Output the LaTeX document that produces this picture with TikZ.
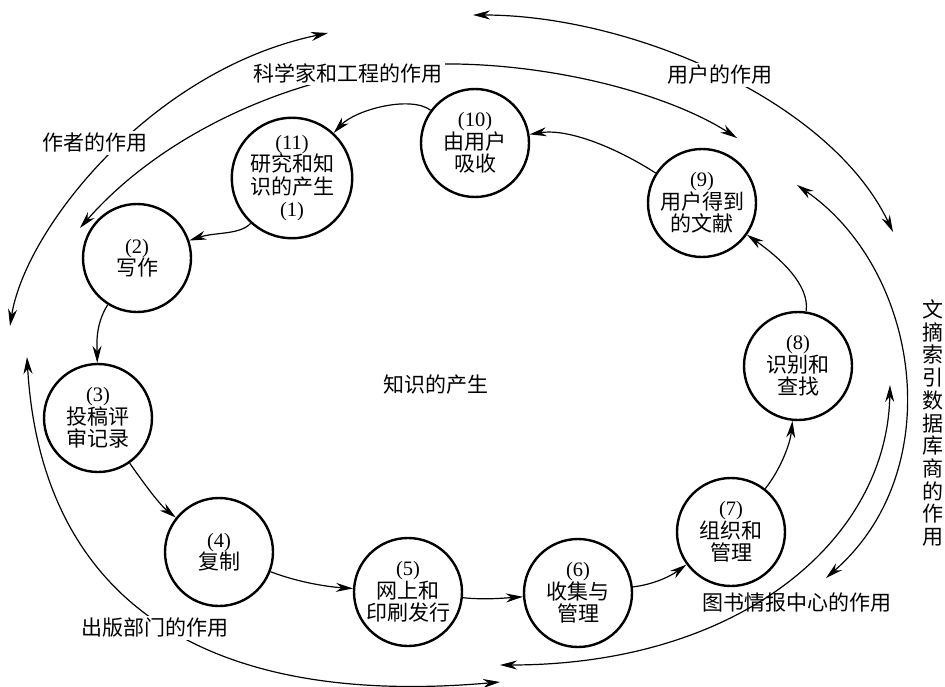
\documentclass[tikz,border=0pt]{standalone}
\usepackage{fontspec}
\setmainfont{Liberation Serif}
\newfontfamily\cjk{Noto Sans CJK SC}
\usetikzlibrary{arrows.meta}
\newcommand\stepno[1]{{\rmfamily\fontsize{20.5}{22}\selectfont #1}}

\tikzset{
  tip/.tip={Stealth[length=17pt,width=9pt,inset=5.5pt]},
  stage/.style={circle, draw, line width=2.4pt, minimum size=108pt, inner sep=0pt,
    align=center, font=\cjk\fontsize{21}{22.5}\selectfont},
  flow/.style={line width=1.2pt, -tip},
  role/.style={line width=1.2pt, tip-tip},
  rolelabel/.style={font=\cjk\fontsize{21}{22.7}\selectfont, inner sep=2pt, align=center},
}

\begin{document}
\begin{tikzpicture}[x=1pt,y=-1pt]
\useasboundingbox[fill=white] (0,0) rectangle (945,687);

% stages of the knowledge cycle
\node[stage] (n11) at (292,178) {\stepno{(11)}\\研究和知\\识的产生\\\stepno{(1)}};
\node[stage] (n10) at (475,143) {\stepno{(10)}\\由用户\\吸收};
\node[stage] (n9)  at (702,203) {\stepno{(9)}\\用户得到\\的文献};
\node[stage] (n2)  at (137,258) {\stepno{(2)}\\写作};
\node[stage] (n3)  at (98,418)  {\stepno{(3)}\\投稿评\\审记录};
\node[stage] (n4)  at (219,552) {\stepno{(4)}\\复制};
\node[stage] (n5)  at (408,592) {\stepno{(5)}\\网上和\\印刷发行};
\node[stage] (n6)  at (578,593) {\stepno{(6)}\\收集与\\管理};
\node[stage] (n7)  at (731,532) {\stepno{(7)}\\组织和\\管理};
\node[stage] (n8)  at (798,366) {\stepno{(8)}\\识别和\\查找};

\node[rolelabel] (core) at (436,385) {知识的产生};

% flow between stages
\draw[flow] (n10) .. controls (410,95) and (355,110) .. (n11);
\draw[flow] (n11) .. controls (240,235) and (215,232) .. (n2);
\draw[flow] (n2)  .. controls (95,325) and (97,345) .. (n3);
\draw[flow] (n3)  .. controls (145,485) and (160,505) .. (n4);
\draw[flow] (n4)  .. controls (300,583) and (330,587) .. (n5);
\draw[flow] (n5)  .. controls (485,600) and (505,598) .. (n6);
\draw[flow] (n6)  .. controls (650,585) and (668,578) .. (n7);
\draw[flow] (n7)  .. controls (780,470) and (790,445) .. (n8);
\draw[flow] (n8)  .. controls (810,285) and (780,258) .. (n9);
\draw[flow] (n9)  .. controls (620,150) and (570,128) .. (n10);

% end points of the role arcs
\coordinate (a1) at (10,326);  \coordinate (a2) at (328,33);
\coordinate (s1) at (80,228);  \coordinate (s2) at (455,64);  \coordinate (s3) at (737,138);
\coordinate (u1) at (473,15);  \coordinate (u2) at (893,232);
\coordinate (d1) at (797,185); \coordinate (d2) at (826,578);
\coordinate (l1) at (890,385); \coordinate (l2) at (500,665);
\coordinate (p1) at (27,357);  \coordinate (p2) at (500,682);

% role arcs
\draw[role] (a1) .. controls (25,230) and (150,70) .. (a2);
\draw[role] (s1) .. controls (170,125) and (320,62) .. (s2)
  .. controls (560,65.5) and (670,95) .. (s3);
\draw[role] (u1) .. controls (630,15) and (830,100) .. (u2);
\draw[role] (d1) .. controls (920,270) and (950,470) .. (d2);
\draw[role] (l1) .. controls (887,540) and (740,665) .. (l2);
\draw[role] (p1) .. controls (40,580) and (180,710) .. (p2);

% role labels
\node[rolelabel, fill=white] (lauthor) at (95,143)  {作者的作用};
\node[rolelabel, fill=white] (lsci)    at (348,73)  {科学家和工程的作用};
\node[rolelabel, fill=white] (luser)   at (720,75)  {用户的作用};
\node[rolelabel]             (llib)    at (797,603) {图书情报中心的作用};
\node[rolelabel, fill=white] (lpub)    at (155,628) {出版部门的作用};
\node[rolelabel]             (ldb)     at (933,423) {文\\摘\\索\\引\\数\\据\\库\\商\\的\\作\\用};
\end{tikzpicture}
\end{document}
